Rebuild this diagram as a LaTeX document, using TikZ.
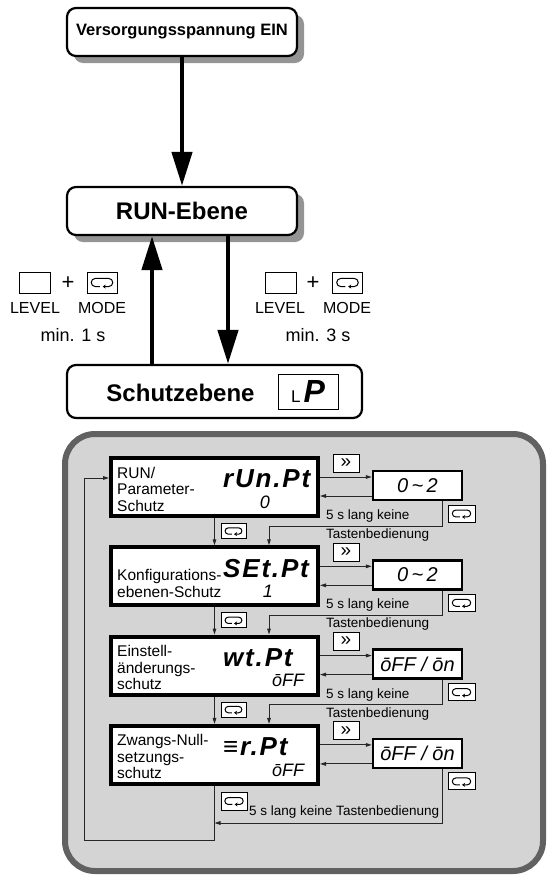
\documentclass[tikz,border=0pt]{standalone}
\usepackage{fontspec}
\setmainfont{Liberation Sans}
\usetikzlibrary{positioning,arrows.meta,shadows}
\definecolor{panelgray}{gray}{0.83}
\definecolor{rimgray}{gray}{0.38}
\newcommand{\segfont}{\itshape\bfseries}

\begin{document}
\begin{tikzpicture}[x=1pt,y=-1pt,
  topbox/.style={draw,line width=2.2pt,rounded corners=9pt,fill=white,
    minimum width=230pt,minimum height=48pt,inner sep=0pt},
  shadowed/.style={drop shadow={shadow xshift=7pt,shadow yshift=-7pt,fill=black!42,opacity=1}},
  bigarrow/.style={line width=4.5pt,-{Triangle[length=34pt,width=20pt]}},
  key/.style={draw,line width=1pt,fill=white,inner sep=0pt},
  modekey/.style={key,path picture={
    \draw[line width=1pt,-{Stealth[length=3pt,width=4pt]},
      shift={(path picture bounding box.center)}]
      ({-1.5pt*#1},{-3pt*#1}) -- ({-5pt*#1},{-3pt*#1}) arc[start angle=270,end angle=90,radius={3pt*#1}]
      -- ({5pt*#1},{3pt*#1}) arc[start angle=90,end angle=-90,radius={3pt*#1}] -- ({0.5pt*#1},{-3pt*#1});}},
  disp/.style={draw,line width=4pt,fill=white,minimum width=207pt,minimum height=58pt,inner sep=0pt},
  valbox/.style={draw,line width=2.5pt,fill=white,minimum width=89pt,minimum height=29pt,inner sep=0pt,
    font=\fontsize{20}{20}\selectfont\itshape},
  lbl/.style={anchor=west,align=left,inner sep=0pt,font=\fontsize{15.5}{16.5}\selectfont},
  note/.style={anchor=west,inner sep=0pt,font=\fontsize{13.5}{14}\selectfont},
  small/.style={inner sep=0pt,font=\fontsize{16}{16}\selectfont},
  flow/.style={line width=1pt,black!85,-{Triangle[length=6pt,width=3.6pt]}}]
  \useasboundingbox (0,0) rectangle (547,876);

  % power on, run level, protect level
  \node[topbox,shadowed,font=\fontsize{16.5}{18}\selectfont\bfseries] (pwr) at (182,32) {Versorgungsspannung EIN};
  \node[topbox,shadowed,font=\fontsize{24}{26}\selectfont\bfseries] (run) at (182,211) {RUN-Ebene};
  \node[topbox,minimum width=295pt,minimum height=53pt] (schutz) at (214.5,391.5) {};
  \node[inner sep=0pt,font=\fontsize{24}{26}\selectfont\bfseries] (schutztxt) at (180.5,393) {Schutzebene};
  \node[draw,line width=1pt,minimum width=60pt,minimum height=35pt,inner sep=0pt] (lp) at (308,391.5)
    {{\fontsize{17}{17}\selectfont L}\hspace{3pt}{\fontsize{32}{32}\selectfont\segfont P}};
  \draw[bigarrow] (pwr) -- (run);
  \draw[bigarrow] ([xshift=-30pt]run.south |- schutz.north) -- ([xshift=-30pt]run.south);
  \draw[bigarrow] ([xshift=46pt]run.south) -- ([xshift=46pt]run.south |- schutz.north);

  % key combinations
  \node[key,minimum width=31pt,minimum height=21pt] (levl) at (34.5,282.5) {};
  \node[inner sep=0pt,font=\fontsize{22}{22}\selectfont] (plusl) at (68,283.5) {+};
  \node[modekey=1.35,minimum width=30pt,minimum height=21pt] (model) at (102,282.5) {};
  \node[small] (levltxt) at (35,308) {LEVEL};
  \node[small] (modltxt) at (102,308) {MODE};
  \node[inner sep=0pt,font=\fontsize{18}{18}\selectfont] (minl) at (73,335) {min. 1 s};
  \node[key,minimum width=31pt,minimum height=21pt] (levr) at (280.5,282.5) {};
  \node[inner sep=0pt,font=\fontsize{22}{22}\selectfont] (plusr) at (313,283.5) {+};
  \node[modekey=1.35,minimum width=30pt,minimum height=21pt] (modr) at (347.5,282.5) {};
  \node[small] (levrtxt) at (280,308) {LEVEL};
  \node[small] (modrtxt) at (347,308) {MODE};
  \node[inner sep=0pt,font=\fontsize{18}{18}\selectfont] (minr) at (318,335) {min. 3 s};

  % protect level panel
  \draw[line width=6pt,rimgray,fill=panelgray,rounded corners=30pt] (65,434) rectangle (543,871);

  % the four protect parameters
  \foreach \i/\lbl/\dy/\code/\val/\vx/\sel in {
    1/{RUN/\\Parameter-\\Schutz}/31/rUn.Pt/0/265/{0\,\textasciitilde\,2},
    2/{Konfigurations-\\ebenen-Schutz}/36/SEt.Pt/1/268/{0\,\textasciitilde\,2},
    3/{Einstell-\\änderungs-\\schutz}/31/wt.Pt/ōFF/288/{ōFF / ōn},
    4/{Zwangs-Null-\\setzungs-\\schutz}/31/≡r.Pt/ōFF/288/{ōFF / ōn}}{
    \pgfmathsetmacro\T{458+89.3*(\i-1)}
    \node[disp] (disp\i) at (214.5,\T+29) {};
    \node[lbl] (lbl\i) at (117,\T+\dy) {\lbl};
    \node[anchor=west,inner sep=0pt,font=\fontsize{26}{26}\selectfont\segfont\addfontfeatures{LetterSpace=7}] (code\i) at (223,\T+21) {\code};
    \node[inner sep=0pt,font=\fontsize{18}{18}\selectfont\itshape] (cur\i) at (\vx,\T+44) {\val};
    \node[key,minimum width=26pt,minimum height=18pt,font=\fontsize{19}{19}\selectfont] (fwd\i) at (346,\T+5) {»};
    \node[valbox] (val\i) at (417.5,\T+27.5) {\sel};
    \node[modekey=1.15,minimum width=27pt,minimum height=17pt] (ret\i) at (461.5,\T+55.5) {};
    \coordinate (ra\i) at ([yshift=8.5pt]val\i.west);
    \coordinate (la\i) at ([yshift=-10.5pt]val\i.west);
    \draw[flow] (disp\i.east |- ra\i) -- (ra\i);
    \draw[flow] (la\i) -- (disp\i.east |- la\i);
  }

  % mode key steps and timeouts
  \foreach \i/\j in {1/2,2/3,3/4}{
    \pgfmathsetmacro\T{458+89.3*(\i-1)}
    \draw[flow] (disp\i) -- (disp\j);
    \node[modekey=1.05,minimum width=25pt,minimum height=15pt] (nxt\i) at (233.5,\T+73) {};
    \coordinate (bend\i) at (442,\T+68);
    \draw[flow] (val\i.south -| bend\i) -- (bend\i) -| ([xshift=54.5pt]disp\j.north);
    \node[note] (wait\i) at (326,\T+58) {5 s lang keine};
    \node[note] (tast\i) at (326,\T+77) {Tastenbedienung};
  }
  \node[modekey=1.15,minimum width=26pt,minimum height=18pt] (nxt4) at (234,801) {};
  \coordinate (bend4) at (442,823);
  \draw[flow] (val4.south -| bend4) -- (bend4) -- (bend4 -| disp4.south);
  \node[note] (wait4) at (249,812) {5 s lang keine Tastenbedienung};
  \coordinate (loopb) at (84,840);
  \coordinate (in1) at ([yshift=9pt]disp1.west);
  \draw[flow] (disp4.south) |- (loopb) |- (in1);
\end{tikzpicture}
\end{document}
